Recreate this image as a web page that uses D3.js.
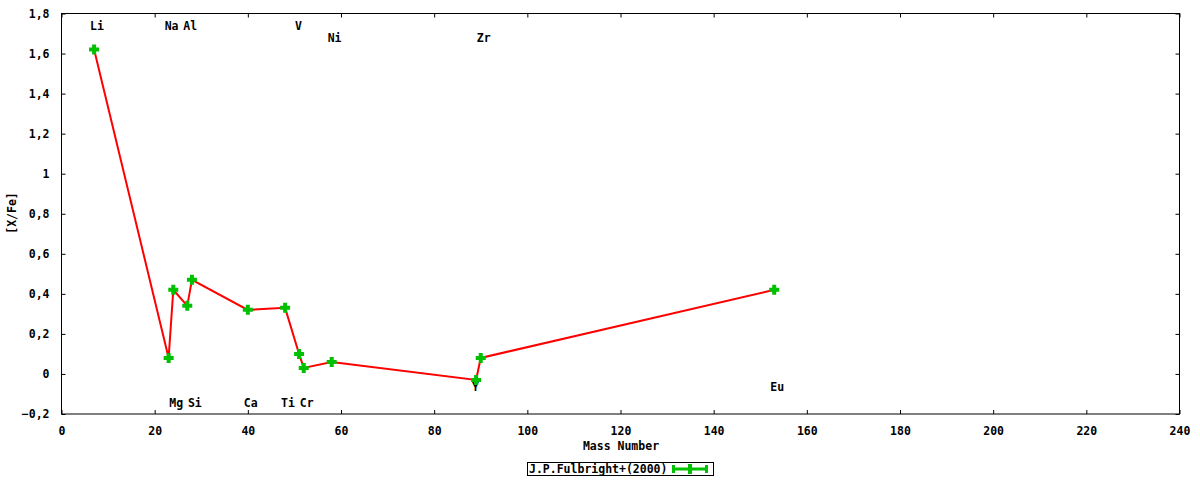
<!DOCTYPE html>
<html>
<head>
<meta charset="utf-8">
<script src="https://cdn.jsdelivr.net/npm/d3@7"></script>
<style>
  html, body { margin: 0; padding: 0; background: #fff; }
  text { font-family: "DejaVu Sans Mono", monospace; font-weight: bold; font-size: 11.5px; fill: #000; }
</style>
</head>
<body>
<svg id="chart" width="1200" height="480"></svg>
<script>
// ---- data ----
const elements   = ["Li", "Na", "Mg", "Al", "Si", "Ca", "Ti", "V", "Cr", "Ni", "Y", "Zr", "Eu"];
const massNumber = [7, 23, 24, 27, 28, 40, 48, 51, 52, 58, 89, 90, 153];
const xFe        = [1.62, 0.08, 0.42, 0.34, 0.47, 0.32, 0.33, 0.10, 0.03, 0.06, -0.03, 0.08, 0.42];
// label level (in [X/Fe] units) for each element annotation
const labelLevel = [1.74, 1.74, -0.145, 1.74, -0.145, -0.145, -0.145, 1.74, -0.145, 1.68, -0.065, 1.68, -0.065];
const xTicks = [0, 20, 40, 60, 80, 100, 120, 140, 160, 180, 200, 220, 240];
const yTicks = [-0.2, 0, 0.2, 0.4, 0.6, 0.8, 1, 1.2, 1.4, 1.6, 1.8];
const seriesName = "J.P.Fulbright+(2000)";
const xTitle = "Mass Number";
const yTitle = "[X/Fe]";

// ---- layout ----
const svg = d3.select("#chart");
const L = 61.5, R = 1179.5, T = 13.5, B = 414;
const x = d3.scaleLinear().domain([0, 240]).range([L, R]);
const y = d3.scaleLinear().domain([-0.2, 1.8]).range([B, T]);
const green = "#00c000", red = "#ff0000";
const fmt = v => d3.format("")(+v.toFixed(1)).replace(".", ",");

// frame
svg.append("rect").attr("x", L).attr("y", T).attr("width", R - L).attr("height", B - T)
  .attr("fill", "none").attr("stroke", "#000").attr("stroke-width", 1);

// axes with inward ticks (mirrored)
const tickLen = 4;
svg.append("g").attr("transform", `translate(0,${B})`)
  .call(d3.axisBottom(x).tickValues(xTicks).tickSize(-tickLen).tickPadding(13).tickFormat(d => d))
  .call(g => g.select(".domain").remove());
svg.append("g").attr("transform", `translate(0,${T})`)
  .call(d3.axisTop(x).tickValues(xTicks).tickSize(-tickLen).tickFormat(""))
  .call(g => g.select(".domain").remove());
svg.append("g").attr("transform", `translate(${L},0)`)
  .call(d3.axisLeft(y).tickValues(yTicks).tickSize(-tickLen).tickPadding(12).tickFormat(fmt))
  .call(g => g.select(".domain").remove());
svg.append("g").attr("transform", `translate(${R},0)`)
  .call(d3.axisRight(y).tickValues(yTicks).tickSize(-tickLen).tickFormat(""))
  .call(g => g.select(".domain").remove());
svg.selectAll(".tick line").attr("stroke", "#000");
svg.selectAll(".tick text").attr("fill", "#000")
  .style("font-family", "DejaVu Sans Mono, monospace").style("font-weight", "bold").style("font-size", "11.5px");

// axis titles
svg.append("text").attr("x", (L + R) / 2 + 0.5).attr("y", 450).attr("text-anchor", "middle").text(xTitle);
svg.append("text").attr("transform", `translate(16,213) rotate(-90)`).attr("text-anchor", "middle").text(yTitle);

// element labels
svg.append("g").selectAll("text").data(elements).join("text")
  .attr("x", (d, i) => x(massNumber[i]) - 4)
  .attr("y", (d, i) => y(labelLevel[i]) + 4)
  .attr("text-anchor", "start")
  .text(d => d);

// line
const pts = massNumber.map((m, i) => [m, xFe[i]]);
svg.append("path").datum(pts)
  .attr("d", d3.line().x(d => x(d[0])).y(d => y(d[1])))
  .attr("fill", "none").attr("stroke", red).attr("stroke-width", 2);

// markers (plus)
const plus = "M-5,0H5M0,-5V5";
svg.append("g").selectAll("path").data(pts).join("path")
  .attr("transform", d => `translate(${x(d[0])},${y(d[1])})`)
  .attr("d", plus).attr("stroke", green).attr("stroke-width", 4).attr("fill", "none");

// legend
const lg = svg.append("g");
lg.append("rect").attr("x", 527.5).attr("y", 462.5).attr("width", 186).attr("height", 13)
  .attr("fill", "#fff").attr("stroke", "#000").attr("stroke-width", 1);
lg.append("text").attr("x", 529).attr("y", 473).text(seriesName);
lg.append("path").attr("d", "M673,469H707").attr("stroke", green).attr("stroke-width", 3);
lg.append("path").attr("d", "M673.5,465V473M706.5,465V473").attr("stroke", green).attr("stroke-width", 3);
lg.append("path").attr("d", "M690,464V474").attr("stroke", green).attr("stroke-width", 4);
</script>
</body>
</html>
